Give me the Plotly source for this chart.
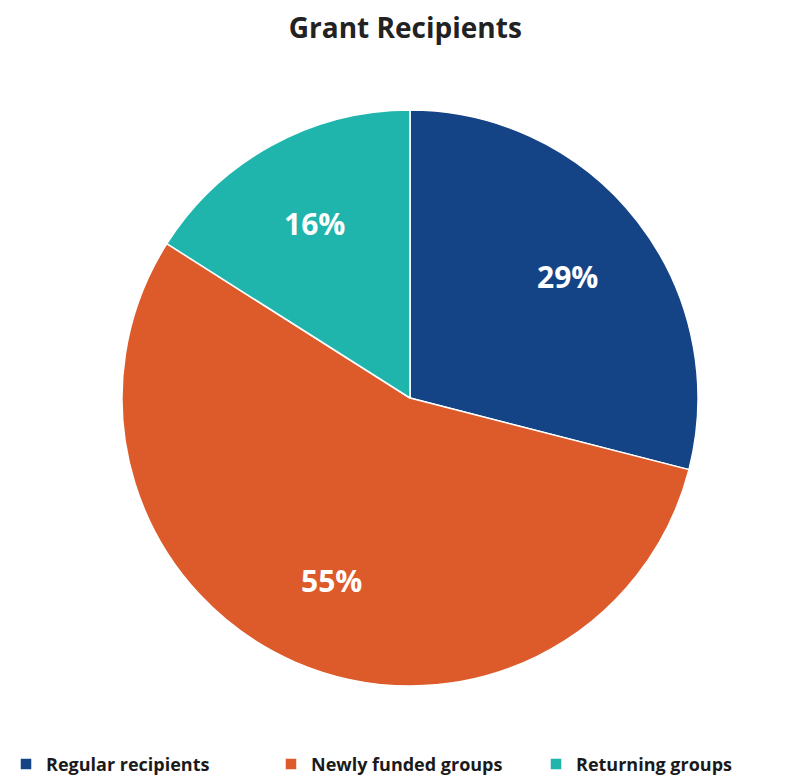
import math
import plotly.graph_objects as go

labels = ["Regular recipients", "Newly funded groups", "Returning groups"]
values = [29, 55, 16]
colors = ["#154486", "#DD5A2A", "#1FB5AC"]

W, H = 801, 784
M_T, M_B = 110, 98
PIE_L, PIE_R = 122, 698

fig = go.Figure(go.Pie(
    labels=labels,
    values=values,
    sort=False,
    direction="clockwise",
    rotation=0,
    domain=dict(x=[PIE_L / W, PIE_R / W], y=[0, 1]),
    marker=dict(colors=colors, line=dict(color="white", width=1.5)),
    textinfo="none",
    hoverinfo="label+percent",
))

# percentage labels placed at each slice's mid angle
plot_h = H - M_T - M_B
cx = (PIE_L + PIE_R) / 2 / W
rx = (PIE_R - PIE_L) / 2 / W
ry = (PIE_R - PIE_L) / 2 / plot_h
total = sum(values)
cum = 0
for v in values:
    mid = (cum + v / 2) / total * 2 * math.pi
    cum += v
    fig.add_annotation(
        x=cx + 0.69 * rx * math.sin(mid),
        y=0.5 + 0.69 * ry * math.cos(mid),
        xref="paper", yref="paper", xanchor="center", yanchor="middle", showarrow=False,
        text=f"{round(v / total * 100)}%",
        font=dict(color="white", size=30, family="Open Sans", weight="bold"),
    )

fig.update_layout(
    width=W, height=H,
    margin=dict(l=0, r=0, t=M_T, b=M_B),
    paper_bgcolor="white",
    plot_bgcolor="white",
    title=dict(text="Grant Recipients", x=0.506, xanchor="center", y=0.964, yanchor="middle",
               font=dict(family="Open Sans", size=28, color="#222222", weight="bold")),
    showlegend=True,
    legend=dict(orientation="h", x=0.008, xanchor="left", y=-0.168, yanchor="bottom",
                font=dict(family="Open Sans", size=18, color="#1a1a1a", weight="bold"),
                entrywidth=220, entrywidthmode="pixels", traceorder="normal"),
)

fig.write_html("out.html")
